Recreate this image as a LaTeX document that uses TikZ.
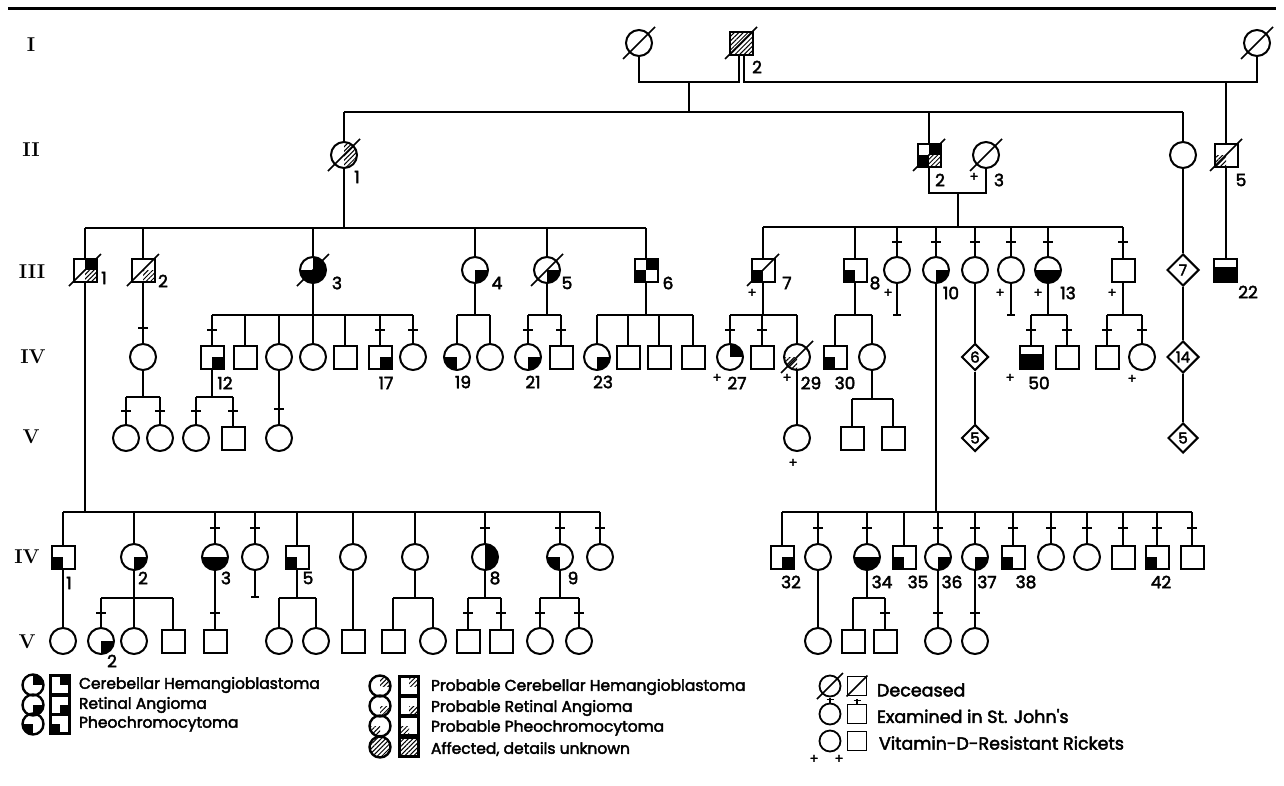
\documentclass[tikz,border=0pt]{standalone}
\usepackage{fontspec}
\newfontfamily\pop{Poppins}[FakeBold=2.5]
\usetikzlibrary{shapes.geometric,patterns.meta,calc}
\newcommand\PPB{path picture bounding box}
\newcommand\qTR{\fill (\PPB.center) rectangle (\PPB.north east);}
\newcommand\qTL{\fill (\PPB.center) rectangle (\PPB.north west);}
\newcommand\qBR{\fill (\PPB.center) rectangle (\PPB.south east);}
\newcommand\qBL{\fill (\PPB.center) rectangle (\PPB.south west);}
\newcommand\qB{\fill (\PPB.west) rectangle (\PPB.south east);}
\newcommand\qBB{\fill ([yshift=3pt]\PPB.west) rectangle (\PPB.south east);}
\newcommand\qR{\fill (\PPB.north) rectangle (\PPB.south east);}
\newcommand\hTR{\fill[hatch] (\PPB.center) rectangle (\PPB.north east);}
\newcommand\hBR{\fill[hatch] (\PPB.center) rectangle (\PPB.south east);}
\newcommand\hBL{\fill[hatch] (\PPB.center) rectangle (\PPB.south west);}
\newcommand\hR{\fill[hatch] (\PPB.north) rectangle (\PPB.south east);}
\newcommand\hAll{\fill[hatch] (\PPB.north west) rectangle (\PPB.south east);}
\newcommand\dec[1]{\draw[line width=1.6pt] ([shift={(-16pt,-16pt)}]#1.center) -- ([shift={(16pt,16pt)}]#1.center);}
\newcommand\decs[1]{\draw[line width=1.6pt] ([shift={(-13pt,-13pt)}]#1.center) -- ([shift={(13pt,13pt)}]#1.center);}
\newcommand\kid[2]{\draw (#1.north) -- (#1.north |- 0,#2);}
\newcommand\tk[2]{\draw (#1.north |- 0,#2) +(-5,0) -- +(5,0);}
\newcommand\kidt[3]{\kid{#1}{#2}\tk{#1}{#3}}
\newcommand\sib[3]{\draw (#2.north |- 0,#1) -- (#3.north |- 0,#1);}
\newcommand\down[2]{\draw (#1.south) -- (#1.south |- 0,#2);}
\newcommand\stopline[2]{\draw (#1.south) -- (#1.south |- 0,#2); \draw (#1.south |- 0,#2) +(-4,0) -- +(4,0);}
\newcommand\lab[3]{\node[lbl] (#1) at (#2) {#3};}
\newcommand\pls[2]{\node[pl] (#1) at (#2) {+};}
\begin{document}
\begin{tikzpicture}[x=1pt,y=-1pt,line width=2pt,
 fem/.style={circle,draw,minimum size=26pt,inner sep=0pt},
 mal/.style={rectangle,draw,minimum size=23pt,inner sep=0pt},
 lfem/.style={circle,draw,line width=2.4pt,minimum size=21pt,inner sep=0pt},
 lmal/.style={rectangle,draw,line width=2.4pt,minimum size=19pt,inner sep=0pt},
 dia/.style={diamond,draw,aspect=1,inner sep=0pt,minimum size=#1,font=\pop\fontsize{15}{15}\selectfont},
 lbl/.style={font=\pop\fontsize{17}{17}\selectfont,inner sep=0pt},
 pl/.style={font=\pop\fontsize{13}{13}\selectfont,inner sep=0pt},
 gen/.style={font=\bfseries\fontsize{20}{20}\selectfont,inner sep=0pt},
 leg/.style={font=\pop\fontsize{15.5}{15.5}\selectfont,inner sep=0pt,anchor=west},
 legb/.style={font=\pop\fontsize{17.5}{17.5}\selectfont,inner sep=0pt,anchor=west},
 hatch/.style={pattern={Lines[angle=45,distance=3.2pt,line width=1pt]}},
 pp/.style={path picture={#1}},
]
\useasboundingbox (0,0) rectangle (1284,785);
\fill[white] (0,0) rectangle (1284,785);
\draw[line width=3.5pt] (8,8.5) -- (1276,8.5);
% generation labels
\node[gen] (gI) at (31,45) {I};
\node[gen] (gII) at (31,150) {II};
\node[gen] (gIII) at (32,272) {III};
\node[gen] (gIV) at (33,357) {IV};
\node[gen] (gV) at (31,437) {V};
\node[gen] (gIVb) at (27,557) {IV};
\node[gen] (gVb) at (27,642) {V};
% ---------- Generation I
\node[fem] (I1) at (639,43) {}; \dec{I1}
\node[mal,pp={\hAll}] (I2) at (741,43) {}; \dec{I2}
\lab{tI2}{757,67}{2}
\node[fem] (I3) at (1257,43) {}; \dec{I3}
\coordinate (I2l) at ([xshift=-2.5pt]I2.south);
\coordinate (I2r) at ([xshift=2.5pt]I2.south);
\draw (I1.south) |- (I2l |- 0,82) -- (I2l);
\draw (I2r) |- (I3.south |- 0,82) -- (I3.south);
\coordinate (m1) at ($(I1.south |- 0,82)!0.5!(I2l |- 0,82)$);
\draw (m1) -- (m1 |- 0,112);
% ---------- Generation II
\node[fem,pp={\hR}] (II1) at (344,155) {}; \dec{II1}
\lab{tII1}{357,177}{1}
\node[mal,pp={\qTR\qBL\hBR}] (II2) at (929,155) {}; \dec{II2}
\lab{tII2}{940,180}{2}
\node[fem] (II3) at (986,155) {}; \dec{II3}
\pls{pII3}{974,177}
\lab{tII3}{999,180}{3}
\node[fem] (II4) at (1183,155) {};
\node[mal,pp={\hBL}] (II5) at (1226,155) {}; \dec{II5}
\lab{tII5}{1241,180}{5}
\sib{112}{II1}{II4}
\kid{II1}{112}\kid{II2}{112}\kid{II4}{112}
\kid{II5}{82}
\draw (II2.south) |- (II3.south |- 0,193) -- (II3.south);
\coordinate (m2) at ($(II2.south |- 0,193)!0.5!(II3.south |- 0,193)$);
\draw (m2) -- (m2 |- 0,227);
% ---------- Generation III, children of II-1
\node[mal,pp={\qTR\hBR}] (III1) at (85,270) {}; \dec{III1}
\lab{tIII1}{104,278}{1}
\node[mal,pp={\hBR}] (III2) at (143,270) {}; \dec{III2}
\lab{tIII2}{163,281}{2}
\node[fem,pp={\qTR\qBR\qBL}] (III3) at (313,270) {}; \dec{III3}
\lab{tIII3}{337,283}{3}
\node[fem,pp={\qBR}] (III4) at (475,270) {};
\lab{tIII4}{497,283}{4}
\node[fem,pp={\qBR}] (III5) at (547,270) {}; \dec{III5}
\lab{tIII5}{567,283}{5}
\node[mal,pp={\qTR\qBL}] (III6) at (646,270) {};
\lab{tIII6}{668,283}{6}
\down{II1}{228}
\sib{228}{III1}{III6}
\kid{III1}{228}\kid{III2}{228}\kid{III3}{228}\kid{III4}{228}\kid{III5}{228}\kid{III6}{228}
% ---------- Generation III, children of II-2
\node[mal,pp={\qBL}] (III7) at (763,270) {}; \dec{III7}
\pls{pIII7}{752,293}\lab{tIII7}{787,283}{7}
\node[mal,pp={\qBL}] (III8) at (855,270) {};
\lab{tIII8}{875,283}{8}
\node[fem] (III9) at (897,270) {};
\pls{pIII9}{888,293}
\node[fem,pp={\qBR}] (III10) at (936,270) {};
\lab{tIII10}{951,293}{10}
\node[fem] (III11) at (975,270) {};
\node[fem] (III12) at (1011,270) {};
\pls{pIII12}{1000,293}
\node[fem,pp={\qB}] (III13) at (1048,270) {};
\pls{pIII13}{1038,293}\lab{tIII13}{1068,293}{13}
\node[mal] (III14) at (1123,270) {};
\pls{pIII14}{1112,293}
\sib{227}{III7}{III14}
\kid{III7}{227}\kid{III8}{227}
\kidt{III9}{227}{242}\kidt{III10}{227}{242}\kidt{III11}{227}{242}
\kidt{III12}{227}{242}\kidt{III13}{227}{242}\kidt{III14}{227}{242}
\node[dia=32pt] (III15) at (1183,270) {7};
\draw (II4.south) -- (III15.north);
\node[mal,pp={\qBB}] (III22) at (1225,270) {};
\lab{tIII22}{1248,292}{22}
\draw (II5.south) -- (II5.south |- III22.north);
% ---------- Generation IV (upper)
\node[fem] (IVa) at (143,357) {};
\draw (III2.south) -- (III2.south |- IVa.north);
\tk{IVa}{328}
% children of III-3
\node[mal,pp={\qBR}] (IV12) at (212,357) {};
\lab{tIV12}{225,383}{12}
\node[mal] (IV13) at (245,357) {};
\node[fem] (IV14) at (279,357) {};
\node[fem] (IV15) at (313,357) {};
\node[mal] (IV16) at (345,357) {};
\node[mal,pp={\qBR}] (IV17) at (380,357) {};
\lab{tIV17}{386,383}{17}
\node[fem] (IV18) at (413,357) {};
\down{III3}{315}
\sib{315}{IV12}{IV18}
\kidt{IV12}{315}{330}\kid{IV13}{315}\kid{IV14}{315}\kid{IV15}{315}\kid{IV16}{315}
\kidt{IV17}{315}{330}\kidt{IV18}{315}{330}
% children of III-4
\node[fem,pp={\qBL}] (IV19) at (457,357) {};
\lab{tIV19}{463,382}{19}
\node[fem] (IV20) at (490,357) {};
\down{III4}{315}\sib{315}{IV19}{IV20}\kid{IV19}{315}\kid{IV20}{315}
% children of III-5
\node[fem,pp={\qBR}] (IV21) at (528,357) {};
\lab{tIV21}{533,382}{21}
\node[mal] (IV22) at (561,357) {};
\down{III5}{315}\sib{315}{IV21}{IV22}\kidt{IV21}{315}{330}\kidt{IV22}{315}{330}
% children of III-6
\node[fem,pp={\qBR}] (IV23) at (597,357) {};
\lab{tIV23}{603,382}{23}
\node[mal] (IV24) at (628,357) {};
\node[mal] (IV25) at (659,357) {};
\node[mal] (IV26) at (693,357) {};
\down{III6}{315}\sib{315}{IV23}{IV26}
\kid{IV23}{315}\kid{IV24}{315}\kid{IV25}{315}\kid{IV26}{315}
% children of III-7
\node[fem,pp={\qTR}] (IV27) at (730,357) {};
\pls{pIV27}{717,378}\lab{tIV27}{737,383}{27}
\node[mal] (IV28) at (762,357) {};
\node[fem,pp={\hBL}] (IV29) at (797,357) {}; \dec{IV29}
\pls{pIV29}{787,378}\lab{tIV29}{811,383}{29}
\down{III7}{315}\sib{315}{IV27}{IV29}
\kidt{IV27}{315}{330}\kidt{IV28}{315}{330}\kid{IV29}{315}
% children of III-8
\node[mal,pp={\qBL}] (IV30) at (835,357) {};
\lab{tIV30}{845,383}{30}
\node[fem] (IV31) at (872,357) {};
\down{III8}{315}\sib{315}{IV30}{IV31}\kid{IV30}{315}\kid{IV31}{315}
% childless lines
\stopline{III9}{315}
\stopline{III12}{315}
\node[dia=27pt] (IV6d) at (975,357) {6};
\draw (III11.south) -- (IV6d.north);
% children of III-13
\node[mal,pp={\qBB}] (IV50) at (1031,357) {};
\pls{pIV50}{1010,378}\lab{tIV50}{1039,383}{50}
\node[mal] (IV51) at (1067,357) {};
\down{III13}{315}\sib{315}{IV50}{IV51}\kidt{IV50}{315}{330}\kidt{IV51}{315}{330}
% children of III-14
\node[mal] (IV52) at (1107,357) {};
\node[fem] (IV53) at (1142,357) {};
\pls{pIV53}{1132,379}
\down{III14}{315}\sib{315}{IV52}{IV53}\kidt{IV52}{315}{330}\kidt{IV53}{315}{330}
\node[dia=32pt] (IV14d) at (1183,357) {14};
\draw (III15.south) -- (IV14d.north);
% ---------- Generation V (upper)
\node[fem] (V1) at (126,438) {};
\node[fem] (V2) at (160,438) {};
\down{IVa}{397}\sib{397}{V1}{V2}\kidt{V1}{397}{411}\kidt{V2}{397}{411}
\node[fem] (V3) at (196,438) {};
\node[mal] (V4) at (233,438) {};
\down{IV12}{397}\sib{397}{V3}{V4}\kidt{V3}{397}{411}\kidt{V4}{397}{411}
\node[fem] (V5) at (279,438) {};
\draw (IV14.south) -- (V5.north); \tk{V5}{409}
\node[fem] (V6) at (797,438) {};
\draw (IV29.south) -- (V6.north);
\pls{pV6}{793,463}
\node[mal] (V7) at (852,438) {};
\node[mal] (V8) at (893,438) {};
\down{IV31}{399}\sib{399}{V7}{V8}\kid{V7}{399}\kid{V8}{399}
\node[dia=27pt] (V9d) at (975,438) {5};
\draw (IV6d.south) -- (V9d.north);
\node[dia=30pt] (V10d) at (1183,438) {5};
\draw (IV14d.south) -- (V10d.north);
% ---------- lower family of III-1
\down{III1}{512}
\node[mal,pp={\qBL}] (L1) at (63,557) {};
\lab{tL1}{69,583}{1}
\node[fem,pp={\qBR}] (L2) at (134,557) {};
\lab{tL2}{143,578}{2}
\node[fem,pp={\qB}] (L3) at (215,557) {};
\lab{tL3}{226,578}{3}
\node[fem] (L4) at (255,557) {};
\node[mal,pp={\qBL}] (L5) at (297,557) {};
\lab{tL5}{308,578}{5}
\node[fem] (L6) at (353,557) {};
\node[fem] (L7) at (415,557) {};
\node[fem,pp={\qR}] (L8) at (485,557) {};
\lab{tL8}{495,578}{8}
\node[fem,pp={\qBL}] (L9) at (560,557) {};
\lab{tL9}{573,578}{9}
\node[fem] (L10) at (600,557) {};
\sib{512}{L1}{L10}
\kid{L1}{512}\kid{L2}{512}\kidt{L3}{512}{528}\kidt{L4}{512}{528}\kid{L5}{512}
\kid{L6}{512}\kid{L7}{512}\kidt{L8}{512}{528}\kidt{L9}{512}{528}\kidt{L10}{512}{528}
\stopline{L4}{597}
\node[fem] (M1) at (63,641) {};
\draw (L1.south) -- (M1.north);
\node[fem,pp={\qBR}] (M2) at (101,641) {};
\lab{tM2}{112,661}{2}
\node[fem] (M3) at (134,641) {};
\node[mal] (M4) at (173,641) {};
\down{L2}{598}\sib{598}{M2}{M4}\kidt{M2}{598}{613}\kid{M3}{598}\kid{M4}{598}
\node[mal] (M5) at (215,641) {};
\draw (L3.south) -- (M5.north); \tk{M5}{613}
\node[fem] (M6) at (279,641) {};
\node[fem] (M7) at (316,641) {};
\down{L5}{598}\sib{598}{M6}{M7}\kid{M6}{598}\kid{M7}{598}
\node[mal] (M8) at (353,641) {};
\draw (L6.south) -- (M8.north);
\node[mal] (M9) at (393,641) {};
\node[fem] (M10) at (433,641) {};
\down{L7}{598}\sib{598}{M9}{M10}\kid{M9}{598}\kid{M10}{598}
\node[mal] (M11) at (468,641) {};
\node[mal] (M12) at (501,641) {};
\down{L8}{598}\sib{598}{M11}{M12}\kidt{M11}{598}{613}\kidt{M12}{598}{613}
\node[fem] (M13) at (540,641) {};
\node[fem] (M14) at (579,641) {};
\down{L9}{598}\sib{598}{M13}{M14}\kidt{M13}{598}{613}\kidt{M14}{598}{613}
% ---------- lower family of III-10
\down{III10}{512}
\node[mal,pp={\qBR}] (R1) at (782,557) {};
\lab{tR1}{791,582}{32}
\node[fem] (R2) at (818,557) {};
\node[fem,pp={\qB}] (R3) at (867,557) {};
\lab{tR3}{882,582}{34}
\node[mal,pp={\qBL}] (R4) at (904,557) {};
\lab{tR4}{918,582}{35}
\node[fem,pp={\qBR}] (R5) at (938,557) {};
\lab{tR5}{952,582}{36}
\node[fem,pp={\qBR}] (R6) at (975,557) {};
\lab{tR6}{987,582}{37}
\node[mal,pp={\qBL}] (R7) at (1013,557) {};
\lab{tR7}{1026,582}{38}
\node[fem] (R8) at (1051,557) {};
\node[fem] (R9) at (1087,557) {};
\node[mal] (R10) at (1123,557) {};
\node[mal,pp={\qBL}] (R11) at (1157,557) {};
\lab{tR11}{1161,582}{42}
\node[mal] (R12) at (1192,557) {};
\sib{512}{R1}{R12}
\kid{R1}{512}\kidt{R2}{512}{528}\kidt{R3}{512}{528}\kid{R4}{512}\kidt{R5}{512}{528}
\kidt{R6}{512}{528}\kidt{R7}{512}{528}\kidt{R8}{512}{528}\kidt{R9}{512}{528}
\kidt{R10}{512}{528}\kidt{R11}{512}{528}\kidt{R12}{512}{528}
\node[fem] (S1) at (818,641) {};
\draw (R2.south) -- (S1.north);
\node[mal] (S2) at (853,641) {};
\node[mal] (S3) at (885,641) {};
\down{R3}{598}\sib{598}{S2}{S3}\kid{S2}{598}\kidt{S3}{598}{613}
\node[fem] (S4) at (938,641) {};
\draw (R5.south) -- (S4.north); \tk{S4}{613}
\node[fem] (S5) at (975,641) {};
\draw (R6.south) -- (S5.north); \tk{S5}{613}
% ---------- legend
\node[lfem,pp={\qTR}] (k1c) at (33,685) {};
\node[lmal,pp={\qTR}] (k1s) at (60,685) {};
\node[leg] (k1t) at (78,685) {Cerebellar Hemangioblastoma};
\node[lfem,pp={\qBR}] (k2c) at (33,705) {};
\node[lmal,pp={\qBR}] (k2s) at (60,705) {};
\node[leg] (k2t) at (78,705) {Retinal Angioma};
\node[lfem,pp={\qBL}] (k3c) at (33,724) {};
\node[lmal,pp={\qBL}] (k3s) at (60,724) {};
\node[leg] (k3t) at (78,724) {Pheochromocytoma};
\node[lfem,pp={\hTR}] (k4c) at (380,686) {};
\node[lmal,pp={\hTR}] (k4s) at (409,686) {};
\node[leg] (k4t) at (430,687) {Probable Cerebellar Hemangioblastoma};
\node[lfem,pp={\hBR}] (k5c) at (380,706) {};
\node[lmal,pp={\hBR}] (k5s) at (409,706) {};
\node[leg] (k5t) at (430,708) {Probable Retinal Angioma};
\node[lfem,pp={\hBL}] (k6c) at (380,726) {};
\node[lmal,pp={\hBL}] (k6s) at (409,726) {};
\node[leg] (k6t) at (430,728) {Probable Pheochromocytoma};
\node[lfem,pp={\hAll}] (k7c) at (380,747) {};
\node[lmal,pp={\hAll}] (k7s) at (409,747) {};
\node[leg] (k7t) at (430,749) {Affected, details unknown};
\node[lfem,line width=1.8pt] (k8c) at (830,686) {}; \decs{k8c}
\node[lmal,line width=1.8pt] (k8s) at (857,686) {};
\draw[line width=1.6pt] (k8s.south west) -- (k8s.north east);
\node[legb] (k8t) at (876,690) {Deceased};
\node[lfem,line width=1.8pt] (k9c) at (830,714) {};
\node[lmal,line width=1.8pt] (k9s) at (857,714) {};
\draw[line width=1.5pt] (k9c.north) -- ++(0,-5) +(-3.5,2) -- +(3.5,2);
\draw[line width=1.5pt] (k9s.north) -- ++(0,-5) +(-3.5,2) -- +(3.5,2);
\node[legb] (k9t) at (876,716) {Examined in St. John's};
\node[lfem,line width=1.8pt] (k10c) at (830,741) {};
\node[lmal,line width=1.8pt] (k10s) at (857,741) {};
\pls{pk10c}{814,759}\pls{pk10s}{839,759}
\node[legb] (k10t) at (878,743) {Vitamin-D-Resistant Rickets};
\end{tikzpicture}
\end{document}
